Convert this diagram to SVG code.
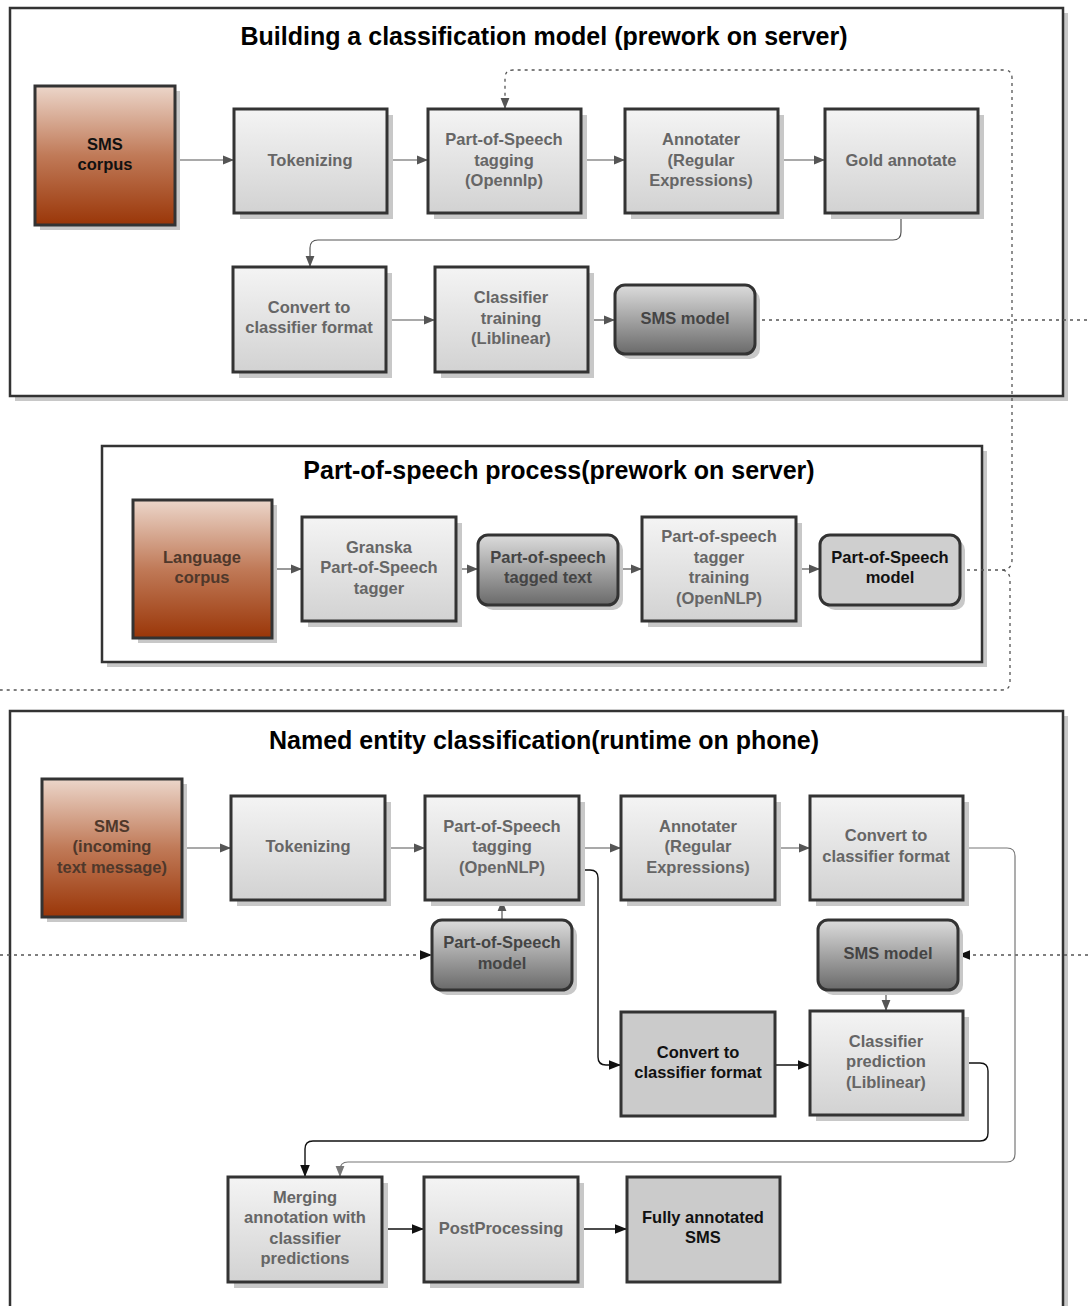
<svg xmlns="http://www.w3.org/2000/svg" width="1088" height="1306" viewBox="0 0 1088 1306">
<style>
text{font-family:"Liberation Sans",Arial,sans-serif;font-weight:bold;text-anchor:middle}
.title{font-size:25px;fill:#000}
.t{font-size:16.5px;fill:#666}
.tb{font-size:16.5px;fill:#111}
.td{font-size:16.5px;fill:#444}
.tbr{font-size:16.5px;fill:#4f382b}
.sh{fill:#c8c8c8}
.box{fill:url(#gGray);stroke:#333;stroke-width:3}
.dark{fill:url(#gDark);stroke:#333;stroke-width:3}
.flat{fill:#cbcbcb;stroke:#333;stroke-width:3}
.brown{fill:url(#gBrown);stroke:#333;stroke-width:3}
.cont{fill:#fff;stroke:#333;stroke-width:2.5}
.c{fill:none;stroke:#555;stroke-width:1.2}
.cl{fill:none;stroke:#777;stroke-width:1.2}
.ck{fill:none;stroke:#111;stroke-width:1.4}
.d{fill:none;stroke:#555;stroke-width:1.3;stroke-dasharray:3 4}
</style>
<defs>
<linearGradient id="gGray" x1="0" y1="0" x2="0" y2="1"><stop offset="0" stop-color="#f4f4f4"/><stop offset="1" stop-color="#d2d2d2"/></linearGradient>
<linearGradient id="gDark" x1="0" y1="0" x2="0" y2="1"><stop offset="0" stop-color="#dcdcdc"/><stop offset="1" stop-color="#6a6a6a"/></linearGradient>
<linearGradient id="gBrown" x1="0" y1="0" x2="0" y2="1"><stop offset="0" stop-color="#ecd6ca"/><stop offset="0.5" stop-color="#c07a58"/><stop offset="1" stop-color="#9a3608"/></linearGradient>
<marker id="ag" viewBox="0 0 10 10" refX="10" refY="5" markerWidth="11" markerHeight="11" markerUnits="userSpaceOnUse" orient="auto"><path d="M0,1 L10,5 L0,9 z" fill="#555"/></marker>
<marker id="al" viewBox="0 0 10 10" refX="10" refY="5" markerWidth="11" markerHeight="11" markerUnits="userSpaceOnUse" orient="auto"><path d="M0,1 L10,5 L0,9 z" fill="#777"/></marker>
<marker id="ak" viewBox="0 0 10 10" refX="10" refY="5" markerWidth="12" markerHeight="12" markerUnits="userSpaceOnUse" orient="auto"><path d="M0,1 L10,5 L0,9 z" fill="#111"/></marker>
</defs>
<rect width="1088" height="1306" fill="#fff"/>

<!-- containers -->
<g id="container1">
<rect class="sh" x="15" y="13" width="1053" height="388"/>
<rect class="cont" x="10" y="8" width="1053" height="388"/>
<text class="title" x="544" y="45">Building a classification model (prework on server)</text>
</g>
<g id="container2">
<rect class="sh" x="107" y="451" width="880" height="216"/>
<rect class="cont" x="102" y="446" width="880" height="216"/>
<text class="title" x="559" y="479">Part-of-speech process(prework on server)</text>
</g>
<g id="container3">
<rect class="sh" x="15" y="716" width="1053" height="620"/>
<rect class="cont" x="10" y="711" width="1053" height="620"/>
<text class="title" x="544" y="749">Named entity classification(runtime on phone)</text>
</g>

<!-- connectors -->
<g id="connectors">
<path class="c" d="M180,160 H234" marker-end="url(#ag)"/>
<path class="c" d="M387,160 H428" marker-end="url(#ag)"/>
<path class="c" d="M581,160 H625" marker-end="url(#ag)"/>
<path class="c" d="M778,160 H825" marker-end="url(#ag)"/>
<path class="c" d="M901,213 V232 Q901,240 893,240 H318 Q310,240 310,248 V267" marker-end="url(#ag)"/>
<path class="c" d="M386,320 H435" marker-end="url(#ag)"/>
<path class="c" d="M588,320 H615" marker-end="url(#ag)"/>
<path class="d" d="M755,320 H1088"/>
<path class="d" d="M960,570 H1003 Q1012,569 1012,560 V78 Q1012,70 1004,70 H513 Q505,70 505,78 V109" marker-end="url(#ag)"/>
<path class="d" d="M1003,570 Q1010,572 1010,580 V682 Q1010,690 1002,690 H0"/>
<path class="c" d="M272,569 H302" marker-end="url(#ag)"/>
<path class="c" d="M456,569 H478" marker-end="url(#ag)"/>
<path class="c" d="M618,569 H642" marker-end="url(#ag)"/>
<path class="c" d="M796,569 H820" marker-end="url(#ag)"/>
<path class="c" d="M182,848 H231" marker-end="url(#ag)"/>
<path class="c" d="M385,848 H425" marker-end="url(#ag)"/>
<path class="c" d="M579,848 H621" marker-end="url(#ag)"/>
<path class="c" d="M775,848 H810" marker-end="url(#ag)"/>
<path class="c" d="M502,920 V900" marker-end="url(#ag)"/>
<path class="d" d="M0,955 H432" marker-end="url(#ak)"/>
<path class="d" d="M1088,955 H958" marker-end="url(#ak)"/>
<path class="c" d="M886,990 V1011" marker-end="url(#ag)"/>
<path class="ck" d="M579,870 H590 Q598,870 598,878 V1057 Q598,1065 606,1065 H621" marker-end="url(#ak)"/>
<path class="ck" d="M775,1065 H810" marker-end="url(#ak)"/>
<path class="ck" d="M963,1063 H980 Q988,1063 988,1071 V1133 Q988,1141 980,1141 H313 Q305,1141 305,1149 V1177" marker-end="url(#ak)"/>
<path class="cl" d="M963,848 H1007 Q1015,848 1015,856 V1154 Q1015,1162 1007,1162 H348 Q340,1162 340,1170 V1177" marker-end="url(#al)"/>
<path class="ck" d="M382,1229 H424" marker-end="url(#ak)"/>
<path class="ck" d="M578,1229 H627" marker-end="url(#ak)"/>
</g>

<!-- section 1 nodes -->
<g id="sms-corpus">
<rect class="sh" x="40" y="91" width="140" height="139"/>
<rect class="brown" x="35" y="86" width="140" height="139"/>
<text class="tb" x="105" y="150">SMS</text><text class="tb" x="105" y="170">corpus</text>
</g>
<g id="tokenizing1">
<rect class="sh" x="240" y="115" width="153" height="104"/>
<rect class="box" x="234" y="109" width="153" height="104"/>
<text class="t" x="310" y="166">Tokenizing</text>
</g>
<g id="pos-tagging1">
<rect class="sh" x="434" y="115" width="153" height="104"/>
<rect class="box" x="428" y="109" width="153" height="104"/>
<text class="t" x="504" y="145">Part-of-Speech</text><text class="t" x="504" y="166">tagging</text><text class="t" x="504" y="186">(Opennlp)</text>
</g>
<g id="annotater1">
<rect class="sh" x="631" y="115" width="153" height="104"/>
<rect class="box" x="625" y="109" width="153" height="104"/>
<text class="t" x="701" y="145">Annotater</text><text class="t" x="701" y="166">(Regular</text><text class="t" x="701" y="186">Expressions)</text>
</g>
<g id="gold-annotate">
<rect class="sh" x="831" y="115" width="153" height="104"/>
<rect class="box" x="825" y="109" width="153" height="104"/>
<text class="t" x="901" y="166">Gold annotate</text>
</g>
<g id="convert1">
<rect class="sh" x="239" y="273" width="153" height="105"/>
<rect class="box" x="233" y="267" width="153" height="105"/>
<text class="t" x="309" y="313">Convert to</text><text class="t" x="309" y="333">classifier format</text>
</g>
<g id="classifier-training">
<rect class="sh" x="441" y="273" width="153" height="105"/>
<rect class="box" x="435" y="267" width="153" height="105"/>
<text class="t" x="511" y="303">Classifier</text><text class="t" x="511" y="324">training</text><text class="t" x="511" y="344">(Liblinear)</text>
</g>
<g id="sms-model1">
<rect class="sh" x="620" y="290" width="140" height="69" rx="10"/>
<rect class="dark" x="615" y="285" width="140" height="69" rx="10"/>
<text class="td" x="685" y="324">SMS model</text>
</g>

<!-- section 2 nodes -->
<g id="language-corpus">
<rect class="sh" x="138" y="505" width="139" height="138"/>
<rect class="brown" x="133" y="500" width="139" height="138"/>
<text class="tbr" x="202" y="563">Language</text><text class="tbr" x="202" y="583">corpus</text>
</g>
<g id="granska">
<rect class="sh" x="308" y="523" width="154" height="104"/>
<rect class="box" x="302" y="517" width="154" height="104"/>
<text class="t" x="379" y="553">Granska</text><text class="t" x="379" y="573">Part-of-Speech</text><text class="t" x="379" y="594">tagger</text>
</g>
<g id="pos-tagged-text">
<rect class="sh" x="483" y="540" width="140" height="70" rx="10"/>
<rect class="dark" x="478" y="535" width="140" height="70" rx="10"/>
<text class="td" x="548" y="563">Part-of-speech</text><text class="td" x="548" y="583">tagged text</text>
</g>
<g id="pos-tagger-training">
<rect class="sh" x="648" y="523" width="154" height="104"/>
<rect class="box" x="642" y="517" width="154" height="104"/>
<text class="t" x="719" y="542">Part-of-speech</text><text class="t" x="719" y="563">tagger</text><text class="t" x="719" y="583">training</text><text class="t" x="719" y="604">(OpenNLP)</text>
</g>
<g id="pos-model1">
<rect class="sh" x="825" y="540" width="140" height="70" rx="10"/>
<rect class="flat" x="820" y="535" width="140" height="70" rx="10" style="fill:#cfcfcf"/>
<text class="tb" x="890" y="563">Part-of-Speech</text><text class="tb" x="890" y="583">model</text>
</g>

<!-- section 3 nodes -->
<g id="sms-incoming">
<rect class="sh" x="47" y="784" width="140" height="138"/>
<rect class="brown" x="42" y="779" width="140" height="138"/>
<text class="tbr" x="112" y="832">SMS</text><text class="tbr" x="112" y="852">(incoming</text><text class="tbr" x="112" y="873">text message)</text>
</g>
<g id="tokenizing2">
<rect class="sh" x="237" y="802" width="154" height="104"/>
<rect class="box" x="231" y="796" width="154" height="104"/>
<text class="t" x="308" y="852">Tokenizing</text>
</g>
<g id="pos-tagging2">
<rect class="sh" x="431" y="802" width="154" height="104"/>
<rect class="box" x="425" y="796" width="154" height="104"/>
<text class="t" x="502" y="832">Part-of-Speech</text><text class="t" x="502" y="852">tagging</text><text class="t" x="502" y="873">(OpenNLP)</text>
</g>
<g id="annotater2">
<rect class="sh" x="627" y="802" width="154" height="104"/>
<rect class="box" x="621" y="796" width="154" height="104"/>
<text class="t" x="698" y="832">Annotater</text><text class="t" x="698" y="852">(Regular</text><text class="t" x="698" y="873">Expressions)</text>
</g>
<g id="convert2">
<rect class="sh" x="816" y="802" width="153" height="104"/>
<rect class="box" x="810" y="796" width="153" height="104"/>
<text class="t" x="886" y="841">Convert to</text><text class="t" x="886" y="862">classifier format</text>
</g>
<g id="pos-model2">
<rect class="sh" x="437" y="925" width="140" height="70" rx="10"/>
<rect class="dark" x="432" y="920" width="140" height="70" rx="10"/>
<text class="td" x="502" y="948">Part-of-Speech</text><text class="td" x="502" y="969">model</text>
</g>
<g id="sms-model2">
<rect class="sh" x="823" y="925" width="140" height="70" rx="10"/>
<rect class="dark" x="818" y="920" width="140" height="70" rx="10"/>
<text class="td" x="888" y="959">SMS model</text>
</g>
<g id="convert3">
<rect class="flat" x="621" y="1012" width="154" height="104"/>
<text class="tb" x="698" y="1058">Convert to</text><text class="tb" x="698" y="1078">classifier format</text>
</g>
<g id="classifier-prediction">
<rect class="sh" x="816" y="1017" width="153" height="104"/>
<rect class="box" x="810" y="1011" width="153" height="104"/>
<text class="t" x="886" y="1047">Classifier</text><text class="t" x="886" y="1067">prediction</text><text class="t" x="886" y="1088">(Liblinear)</text>
</g>
<g id="merging">
<rect class="sh" x="234" y="1183" width="154" height="105"/>
<rect class="box" x="228" y="1177" width="154" height="105"/>
<text class="t" x="305" y="1203">Merging</text><text class="t" x="305" y="1223">annotation with</text><text class="t" x="305" y="1244">classifier</text><text class="t" x="305" y="1264">predictions</text>
</g>
<g id="postprocessing">
<rect class="sh" x="430" y="1183" width="154" height="105"/>
<rect class="box" x="424" y="1177" width="154" height="105"/>
<text class="t" x="501" y="1234">PostProcessing</text>
</g>
<g id="fully-annotated">
<rect class="flat" x="627" y="1177" width="153" height="105"/>
<text class="tb" x="703" y="1223">Fully annotated</text><text class="tb" x="703" y="1243">SMS</text>
</g>
</svg>
